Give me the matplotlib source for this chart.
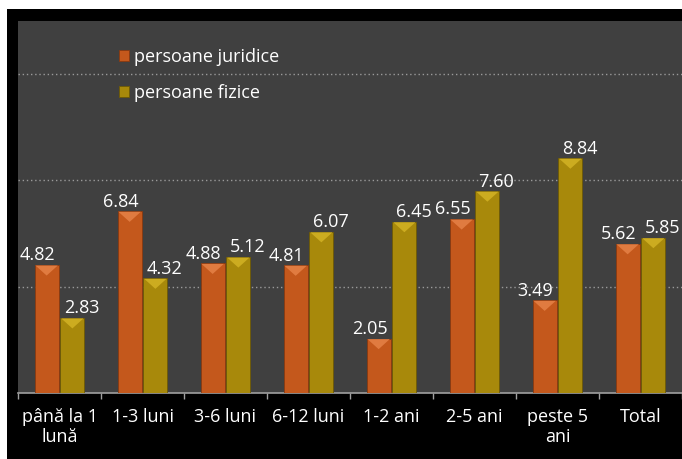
import matplotlib.pyplot as plt
import matplotlib.patches as mpatches
import numpy as np

categories = ["până la 1\nlună", "1-3 luni", "3-6 luni", "6-12 luni",
              "1-2 ani", "2-5 ani", "peste 5\nani", "Total"]
juridice = [4.82, 6.84, 4.88, 4.81, 2.05, 6.55, 3.49, 5.62]
fizice = [2.83, 4.32, 5.12, 6.07, 6.45, 7.60, 8.84, 5.85]
labels_j = ["4.82", "6.84", "4.88", "4.81", "2.05", "6.55", "3.49", "5.62"]
labels_f = ["2.83", "4.32", "5.12", "6.07", "6.45", "7.60", "8.84", "5.85"]

c_jur = "#c4581c"
c_fiz = "#a8890b"

fig = plt.figure(figsize=(6.82, 4.59), dpi=100)
fig.patch.set_facecolor("white")
# black frame behind the plot area
fig.patches.append(mpatches.Rectangle((7 / 682, 0), 1, 1 - 9 / 459,
                                      transform=fig.transFigure,
                                      facecolor="black", zorder=-10))

ax = fig.add_axes([18 / 682, 66 / 459, 1 - 18 / 682, (393 - 21) / 459])
ax.set_facecolor("#404040")

x = np.arange(len(categories))
w = 0.29
b1 = ax.bar(x - w / 2 - 0.01, juridice, w, color=c_jur, edgecolor="#8a3a10",
            linewidth=0.6, label="persoane juridice", zorder=3)
b2 = ax.bar(x + w / 2 + 0.01, fizice, w, color=c_fiz, edgecolor="#6e5a05",
            linewidth=0.6, label="persoane fizice", zorder=3)

# lighter bevel on top of each bar
for bars, cap in [(b1, "#e8844a"), (b2, "#d6b526")]:
    for r in bars:
        x0, x1 = r.get_x(), r.get_x() + r.get_width()
        top = r.get_height()
        ax.fill([x0 + 0.01, x1 - 0.01, (x0 + x1) / 2], [top - 0.02, top - 0.02, top - 0.4],
                color=cap, alpha=0.8, lw=0, zorder=3.5)

for i in range(len(x)):
    ax.text(x[i] - w / 2 - 0.12, juridice[i] + 0.02, labels_j[i], ha="center",
            va="bottom", color="white", fontsize=13, family="Open Sans", zorder=4)
    ax.text(x[i] + w / 2 + 0.12, fizice[i] + 0.02, labels_f[i], ha="center",
            va="bottom", color="white", fontsize=13, family="Open Sans", zorder=4)

ax.set_xlim(-0.5, len(categories) - 0.5)
ax.set_ylim(0, 14)
ax.set_yticks([4, 8, 12])
ax.yaxis.grid(True, color="#9a9a9a", linestyle=(0, (1, 2)), linewidth=1.0, zorder=1)
ax.tick_params(axis="y", left=False, labelleft=False)

ax.set_xticks(x)
ax.set_xticklabels(categories, color="white", fontsize=13, family="Open Sans",
                   linespacing=1.15)
ax.tick_params(axis="x", which="major", length=0, pad=11)
ax.set_xticks(np.arange(len(categories) + 1) - 0.5, minor=True)
ax.tick_params(axis="x", which="minor", length=4, color="#a0a0a0", width=1)

for s in ["top", "right", "left"]:
    ax.spines[s].set_visible(False)
ax.spines["bottom"].set_color("#a0a0a0")
ax.spines["bottom"].set_linewidth(1.2)

leg = ax.legend(loc="upper left", bbox_to_anchor=(0.128, 0.972), frameon=False,
                handlelength=0.55, handleheight=0.55, handletextpad=0.25,
                labelspacing=1.0, prop={"family": "Open Sans", "size": 13})
for t in leg.get_texts():
    t.set_color("white")

fig.savefig("out.png", dpi=100, facecolor=fig.get_facecolor())
